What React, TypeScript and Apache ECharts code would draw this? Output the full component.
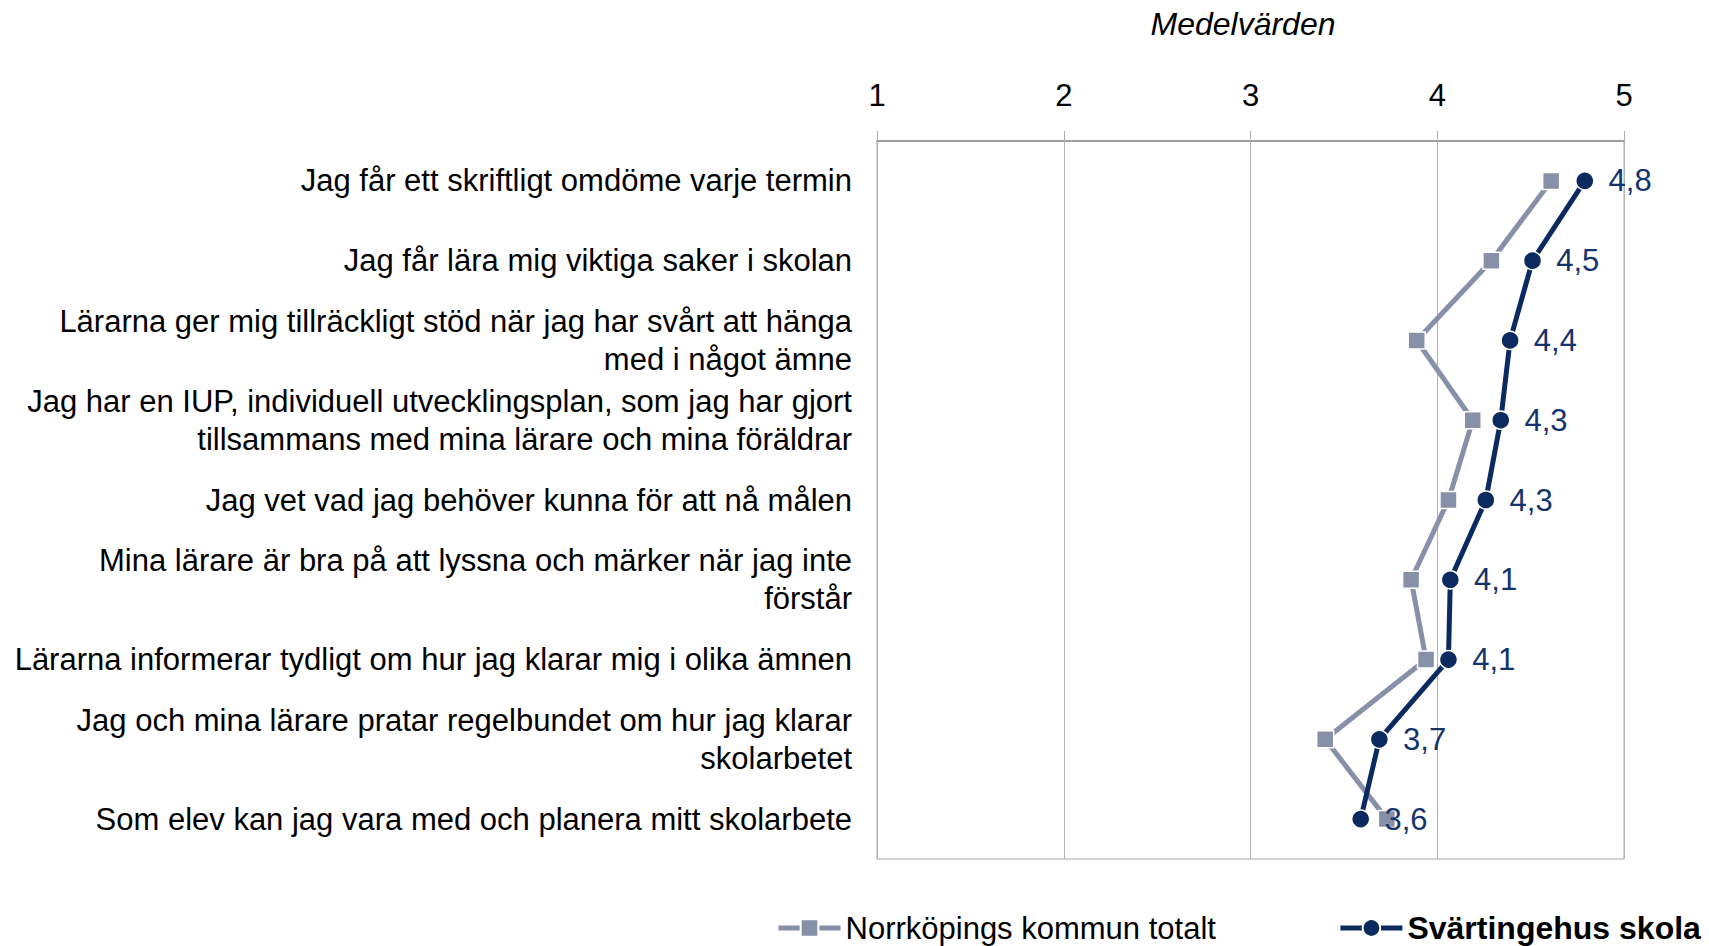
import React, { useEffect, useRef } from "react";
import * as echarts from "echarts";

const categories: string[] = [
  "Jag får ett skriftligt omdöme varje termin",
  "Jag får lära mig viktiga saker i skolan",
  "Lärarna ger mig tillräckligt stöd när jag har svårt att hänga\nmed i något ämne",
  "Jag har en IUP, individuell utvecklingsplan, som jag har gjort\ntillsammans med mina lärare och mina föräldrar",
  "Jag vet vad jag behöver kunna för att nå målen",
  "Mina lärare är bra på att lyssna och märker när jag inte\nförstår",
  "Lärarna informerar tydligt om hur jag klarar mig i olika ämnen",
  "Jag och mina lärare pratar regelbundet om hur jag klarar\nskolarbetet",
  "Som elev kan jag vara med och planera mitt skolarbete",
];

const seriesKommunName = "Norrköpings kommun totalt";
const seriesSkolaName = "Svärtingehus skola";

const kommunValues: number[] = [4.61, 4.29, 3.89, 4.19, 4.06, 3.86, 3.94, 3.4, 3.73];
const skolaValues: number[] = [4.79, 4.51, 4.39, 4.34, 4.26, 4.07, 4.06, 3.69, 3.59];

const axisTitle = "Medelvärden";

const GRAY = "#8790a9";
const NAVY = "#0b2a60";
const FONT = "Liberation Sans, Arial, sans-serif";

export default function App() {
  const ref = useRef<HTMLDivElement>(null);

  useEffect(() => {
    if (!ref.current) return;
    const chart = echarts.init(ref.current, undefined, { renderer: "svg" });
    chart.setOption({
      animation: false,
      backgroundColor: "#ffffff",
      textStyle: { fontFamily: FONT },
      graphic: [
        {
          type: "text",
          x: 1243,
          y: 24,
          style: {
            text: axisTitle,
            font: `italic 32px ${FONT}`,
            fill: "#000",
            align: "center",
            verticalAlign: "middle",
          },
        },
      ],
      legend: {
        left: 776,
        top: 912,
        padding: 0,
        itemWidth: 62,
        itemHeight: 22,
        itemGap: 122,
        data: [seriesKommunName, seriesSkolaName],
        lineStyle: { width: 5 },
        formatter: (name: string) =>
          name === seriesSkolaName ? `{b|${name}}` : `{n|${name}}`,
        textStyle: {
          fontFamily: FONT,
          fontSize: 31,
          color: "#000",
          rich: {
            n: { fontFamily: FONT, fontSize: 31, color: "#000" },
            b: { fontFamily: FONT, fontSize: 32, color: "#000", fontWeight: "bold" },
          },
        },
      },
      grid: {
        left: 877,
        right: 85,
        top: 141,
        bottom: 87,
        show: true,
        borderColor: "#a8a8a8",
        borderWidth: 1,
        containLabel: false,
      },
      xAxis: {
        type: "value",
        position: "top",
        min: 1,
        max: 5,
        interval: 1,
        axisLine: { show: true, lineStyle: { color: "#a0a0a0", width: 2 } },
        axisTick: { show: true, inside: false, length: 10, lineStyle: { color: "#b0b0b0" } },
        axisLabel: { fontSize: 31, color: "#000", margin: 30, fontFamily: FONT },
        splitLine: { show: true, lineStyle: { color: "#b4b4b4", width: 1 } },
      },
      yAxis: {
        type: "category",
        inverse: true,
        data: categories,
        axisLine: { show: false },
        axisTick: { show: false },
        splitLine: { show: false },
        axisLabel: {
          fontSize: 31,
          color: "#000",
          margin: 25,
          lineHeight: 38,
          fontFamily: FONT,
          align: "right",
        },
      },
      series: [
        {
          name: seriesKommunName,
          type: "line",
          data: kommunValues,
          symbol: "rect",
          symbolSize: 17,
          color: GRAY,
          lineStyle: { color: GRAY, width: 5 },
          itemStyle: { color: GRAY, borderColor: "#fff", borderWidth: 1.5 },
          label: { show: false },
          z: 2,
        },
        {
          name: seriesSkolaName,
          type: "line",
          data: skolaValues,
          symbol: "circle",
          symbolSize: 18,
          color: NAVY,
          lineStyle: { color: NAVY, width: 5 },
          itemStyle: { color: NAVY, borderColor: "#fff", borderWidth: 1.5 },
          label: {
            show: true,
            position: "right",
            distance: 14,
            fontSize: 31,
            color: "#14336c",
            fontFamily: FONT,
            formatter: (p: any) => Number(p.value).toFixed(1).replace(".", ","),
          },
          z: 3,
        },
      ],
    });
    return () => chart.dispose();
  }, []);

  return (
    <div
      ref={ref}
      style={{ position: "fixed", left: 0, top: 0, width: 1709, height: 946, background: "#fff" }}
    />
  );
}
